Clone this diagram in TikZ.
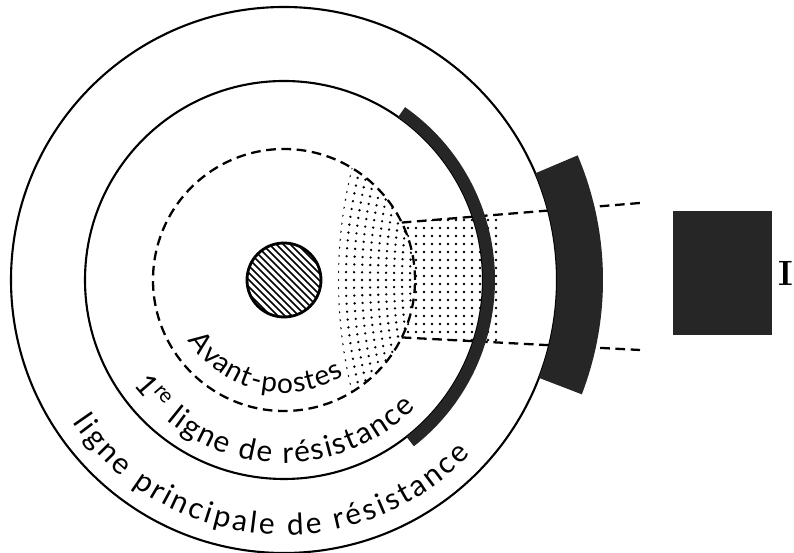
\documentclass[tikz,border=0pt]{standalone}
\usepackage{fontspec}
\newfontfamily\lblfont{Lato}
\usetikzlibrary{decorations.text,positioning}

\tikzset{
  ring/.style={line width=1.2pt},
  outpost/.style={line width=1.3pt, dash pattern=on 5.5pt off 3.2pt},
  solidblack/.style={fill=black!85},
  dot/.style={fill=black}
}

\begin{document}
\begin{tikzpicture}[x=0.02cm,y=0.02cm]
\useasboundingbox (-284,-273) rectangle (510,280);

% limits of the sector
\coordinate (ap-top) at (26:131);
\coordinate (ap-bot) at (-26:131);
\coordinate (lim-top) at (356,77);
\coordinate (lim-bot) at (356,-70);

% dotted zone inside the outposts
\begin{scope}
  \clip (0,0) circle (131);
  \clip (516,0) circle (462);
  \foreach \r in {462,454,...,380}
    \foreach \a in {160,161,...,200}
      \fill[dot,shift={(516,0)}] (\a:\r) circle (1.3);
\end{scope}

% dotted zone in front of the outposts
\begin{scope}
  \clip (ap-top) -- (lim-top) -- (lim-bot) -- (ap-bot)
    arc[start angle=-26, end angle=26, radius=131] -- cycle;
  \foreach \x in {108,116,...,216}
    \foreach \y in {-84,-76,...,84}
      \fill[dot] (\x,\y) circle (1.3);
\end{scope}

% sector lines
\draw[outpost] (ap-top) -- (lim-top);
\draw[outpost] (ap-bot) -- (lim-bot);

% rings
\draw[outpost] (0,0) circle (131);
\draw[ring] (0,0) circle (199);
\draw[ring] (0,0) circle (273);

% centre
\begin{scope}
  \clip (0,0) circle (37);
  \foreach \k in {-84,-77,...,84}
    \draw[line width=0.9pt] (\k-40,40) -- (\k+40,-40);
\end{scope}
\draw[line width=1.6pt] (0,0) circle (37);
\fill (0,0) circle (1);

% held parts of the lines
\fill[solidblack] (-52:199) arc[start angle=-52, end angle=55, radius=199]
  -- (55:211) arc[start angle=55, end angle=-52, radius=211] -- cycle;
\fill[solidblack] (-21:273) arc[start angle=-21, end angle=23, radius=273]
  -- (23:319) arc[start angle=23, end angle=-21, radius=319] -- cycle;

% enemy
\node[solidblack, inner sep=0, minimum width=1.98cm, minimum height=2.48cm]
  (enemy) at (438.5,7) {};
\node[inner sep=0, font=\fontsize{20}{24}\selectfont\bfseries, right=0.11cm of enemy]
  (enemy-lbl) {I};

% curved labels
\path[decorate, decoration={text along path, text align={fit to path},
  text={|\lblfont\fontsize{16}{18}\selectfont|Avant-postes}}]
  (212:113) arc[start angle=212, end angle=302, radius=113];
\path[decorate, decoration={text along path, text align={fit to path},
  text={|\lblfont\fontsize{17}{19}\selectfont|{1\textsuperscript{re}} ligne de résistance}}]
  (215:183) arc[start angle=215, end angle=316, radius=183];
\path[decorate, decoration={text along path, text align={fit to path},
  text={|\lblfont\fontsize{17}{19}\selectfont|ligne principale de résistance}}]
  (214:255) arc[start angle=214, end angle=317, radius=255];

\end{tikzpicture}
\end{document}
